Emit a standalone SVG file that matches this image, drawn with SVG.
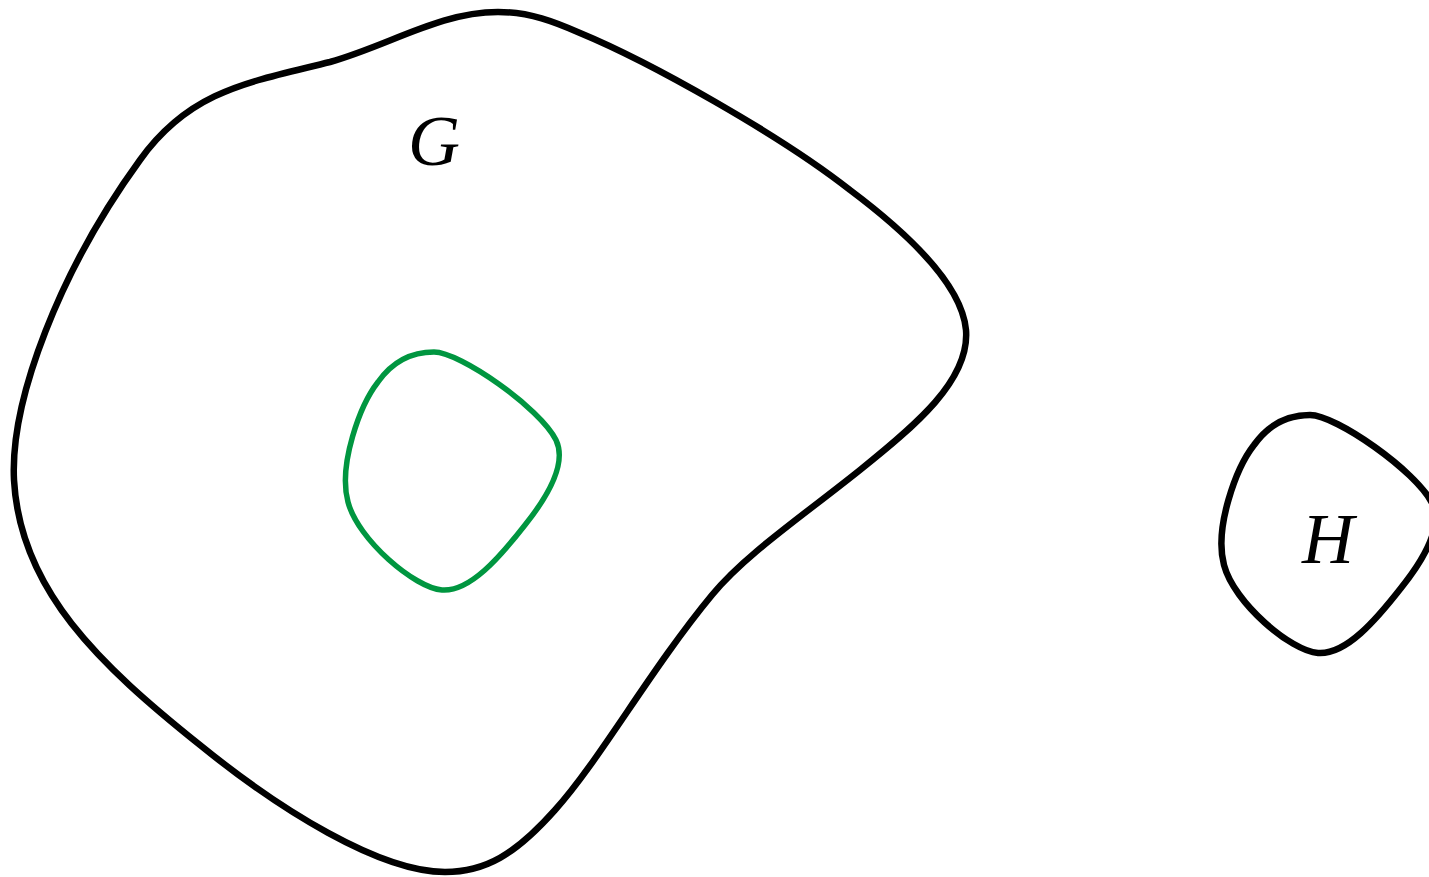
<svg xmlns="http://www.w3.org/2000/svg" width="1429" height="877" viewBox="0 0 1429 877">
<style>
.blob{fill:none;stroke:#000;stroke-width:6.5}
.inner{fill:none;stroke:#009640;stroke-width:5.5}
.lbl{font-family:"Liberation Serif","DejaVu Serif",serif;font-style:italic;font-size:72px;fill:#000;text-anchor:middle}
</style>
<defs>
<path id="small" d="M 434 352 C 460 352, 540 408, 556 440 C 568 465, 545 500, 525 525 C 500 557, 470 592, 442 590 C 415 588, 358 540, 348 502 C 338 465, 360 405, 378 382 C 395 358, 415 352, 434 352 Z"/>
</defs>
<g id="G">
<path class="blob" d="M 498 12 C 530 12, 555 22, 580 33 C 650 62, 780 135, 850 190 C 910 235, 962 285, 966 330 C 970 380, 915 426, 860 470 C 800 518, 745 555, 712 595 C 650 670, 600 760, 555 810 C 515 855, 485 872, 445 872 C 380 872, 280 810, 200 745 C 100 665, 20 590, 14 480 C 10 400, 60 270, 140 160 C 190 90, 250 82, 330 62 C 390 45, 440 12, 498 12 Z"/>
<text class="lbl" x="434" y="165">G</text>
</g>
<g id="subgraph">
<use href="#small" class="inner"/>
</g>
<g id="H">
<use href="#small" class="blob" transform="translate(876,63)"/>
<text class="lbl" x="1328" y="563">H</text>
</g>
<g id="connectors"></g>
</svg>
